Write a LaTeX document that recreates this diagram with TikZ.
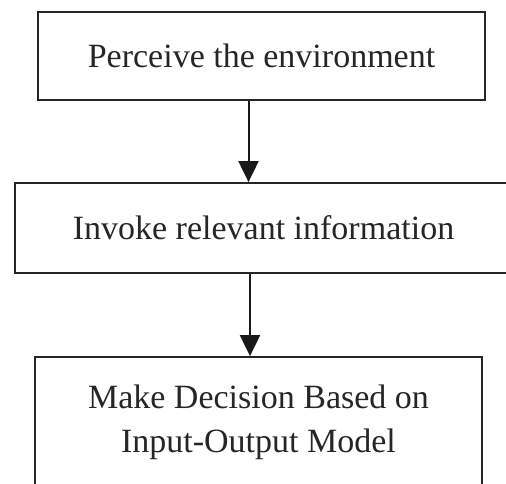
\documentclass[tikz,border=0pt]{standalone}
\usepackage{fontspec}
\setmainfont{Liberation Serif}
\usetikzlibrary{arrows.meta}
\begin{document}
\begin{tikzpicture}[x=1pt,y=-1pt,
  box/.style={draw=black!85, line width=1.8pt, fill=white, inner sep=0pt, align=center,
    font=\fontsize{34}{44}\selectfont, text=black!85},
  flow/.style={draw=black!90, line width=2pt, -{Triangle[length=21pt,width=20pt]}}]
\useasboundingbox (0,0) rectangle (506,483);
\node[box, minimum width=447pt, minimum height=88pt] (b1) at (261.5,56) {Perceive the environment};
\node[box, minimum width=497pt, minimum height=90pt] (b2) at (263.5,228) {Invoke relevant information};
\node[box, minimum width=447pt, minimum height=130pt] (b3) at (258.5,422) {Make Decision Based on\\Input-Output Model};
\draw[flow] ([xshift=-13pt]b1.south) -- ([xshift=-15pt]b2.north);
\draw[flow] ([xshift=-13.5pt]b2.south) -- ([xshift=-8.5pt]b3.north);
\end{tikzpicture}
\end{document}
